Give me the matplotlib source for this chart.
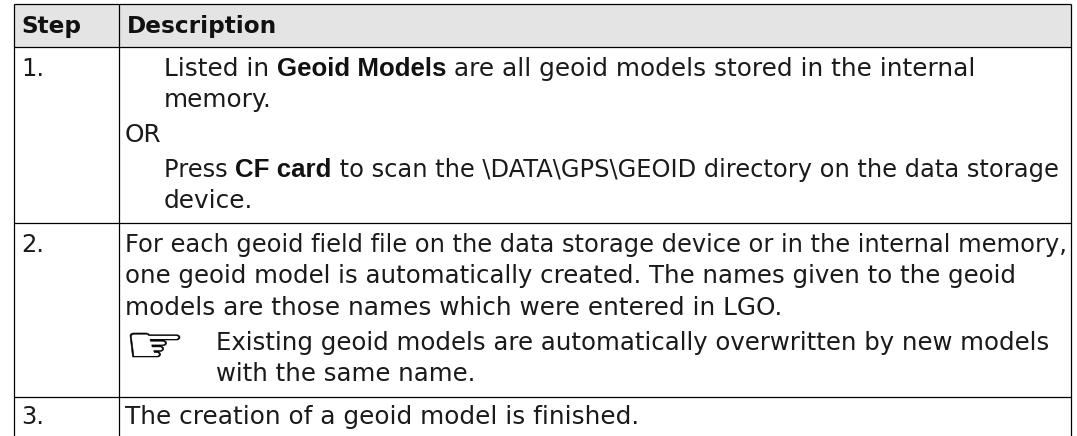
# geoid model steps table

import matplotlib
matplotlib.use("Agg")
import matplotlib.pyplot as plt
from matplotlib.patches import PathPatch
from matplotlib.textpath import TextPath
from matplotlib.transforms import Affine2D

W, H = 1077, 436
BODY_FONT = "DejaVu Sans"
BOLD_FONT = "Liberation Sans"
FS = 17.8
FS_NOTE = 17.6
FS_LONG = 17.35  # the two longest lines run tighter in the reference

headers = ["Step", "Description"]
step_labels = ["1.", "2.", "3."]
# each line: list of (text, is_bold)
lines_step1 = [
    [("Listed in ", False), ("Geoid Models", True), (" are all geoid models stored in the internal", False)],
    [("memory.", False)],
    [("OR", False)],
    [("Press ", False), ("CF card", True), (" to scan the \\DATA\\GPS\\GEOID directory on the data storage", False)],
    [("device.", False)],
]
lines_step2 = [
    "For each geoid field file on the data storage device or in the internal memory,",
    "one geoid model is automatically created. The names given to the geoid",
    "models are those names which were entered in LGO.",
]
note_lines = [
    "Existing geoid models are automatically overwritten by new models",
    "with the same name.",
]
line_step3 = "The creation of a geoid model is finished."

fig = plt.figure(figsize=(W / 100, H / 100), dpi=100)
ax = fig.add_axes([0, 0, 1, 1])
ax.set_xlim(0, W)
ax.set_ylim(H, 0)
ax.axis("off")

LEFT, MID, RIGHT = 13.5, 118.5, 1071

# Header band and grid
ax.fill_between([LEFT, RIGHT], 4.5, 47.3, color="#e4e4e4", lw=0)
for y in [4.5, 47.3, 223.3, 396.7]:
    ax.plot([LEFT, RIGHT], [y, y], color="black", lw=0.9, solid_capstyle="butt")
for x in [LEFT, MID, RIGHT]:
    ax.plot([x, x], [4.5, H], color="black", lw=0.9, solid_capstyle="butt")


def put(x, y, s, bold=False, size=FS):
    if bold:
        return ax.text(x, y, s, family=BOLD_FONT, fontweight="bold", fontsize=18.6,
                       color="#111111", va="baseline")
    return ax.text(x, y, s, family=BODY_FONT, fontsize=size, color="#1a1a1a", va="baseline")


def put_runs(x, y, runs, size=FS):
    r = fig.canvas.get_renderer()
    for s, bold in runs:
        t = put(x, y, s.replace(" ", "\u00a0"), bold, size)
        x = ax.transData.inverted().transform(t.get_window_extent(r))[1][0]


# Header
for x, s in zip([21, 126.5], headers):
    ax.text(x, 32.7, s, family=BODY_FONT, fontweight="bold", fontsize=16.7, color="#111111", va="baseline")

# Step numbers
for y, s in zip([76, 252, 424], step_labels):
    put(21, y, s, size=FS_LONG)

# Row 1
for (x, y), runs in zip([(164, 76), (164, 107), (125, 142), (164, 177), (164, 208)], lines_step1):
    put_runs(x, y, runs, FS_LONG if y == 177 else FS)

# Row 2
for y, s, size in zip([252, 283, 315], lines_step2, [FS_LONG, FS_NOTE, FS]):
    put(125, y, s, size=size)
for y, s in zip([350, 381], note_lines):
    put(216.5, y, s, size=FS_NOTE)

# Hand icon, stretched to the box it has in the reference
hand = TextPath((0, 0), "\u261e", size=10, prop={"family": "DejaVu Sans"})
box = hand.get_extents()
fit = (Affine2D().translate(-box.x0, -box.y0).scale(50 / box.width, -24 / box.height)
       .translate(130, 357))
ax.add_patch(PathPatch(hand.transformed(fit), facecolor="black", edgecolor="black", lw=0.4))

# Row 3
put(125, 424, line_step3)

fig.savefig("out.png", dpi=100)
